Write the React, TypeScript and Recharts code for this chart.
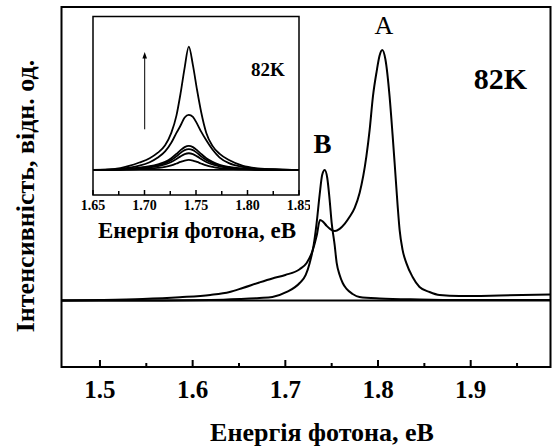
import React from 'react';
import { LineChart, Line, XAxis, YAxis, ReferenceLine, ReferenceArea } from 'recharts';

const FONT = "'Liberation Serif', 'Times New Roman', serif";

// ---- main panel: photoluminescence spectra at 82 K ----
const mainEnergyRange: [number, number] = [1.4585, 1.9861];
const mainIntensityRange: [number, number] = [-0.2655, 1.1717];
const mainMajorTicks = [1.5, 1.6, 1.7, 1.8, 1.9];
const mainMinorTicks = [1.55, 1.65, 1.75, 1.85, 1.95];

// spectrum with the dominant A peak and a B shoulder
const peakAEnergy = [
  1.4585, 1.5, 1.546, 1.586, 1.619, 1.64, 1.654, 1.672, 1.686, 1.7, 1.7155, 1.723,
  1.7295, 1.7338, 1.7374, 1.7405, 1.7446, 1.7489, 1.7536, 1.7586, 1.764, 1.7694,
  1.7748, 1.7802, 1.7874, 1.791, 1.7945, 1.7985, 1.8017, 1.8046, 1.808, 1.8125,
  1.8157, 1.8179, 1.8211, 1.8233, 1.8265, 1.8305, 1.8373, 1.8448, 1.8556, 1.8664,
  1.8879, 1.931, 1.9861,
];
const peakAIntensity = [
  0.0, 0.002, 0.006, 0.013, 0.022, 0.034, 0.05, 0.072, 0.088, 0.102, 0.125, 0.15,
  0.2, 0.258, 0.321, 0.315, 0.298, 0.284, 0.277, 0.286, 0.306, 0.334,
  0.37, 0.43, 0.574, 0.682, 0.814, 0.914, 0.978, 1.0, 0.962, 0.814,
  0.662, 0.55, 0.382, 0.282, 0.202, 0.15, 0.094, 0.054, 0.034, 0.022,
  0.018, 0.02, 0.024,
];

// spectrum with the single B peak
const peakBEnergy = [
  1.4585, 1.554, 1.619, 1.651, 1.672, 1.686, 1.7015, 1.7155, 1.722, 1.7263, 1.7306,
  1.7338, 1.737, 1.7398, 1.7425, 1.7452, 1.7478, 1.75, 1.7532, 1.7554, 1.7586,
  1.7619, 1.7661, 1.7726, 1.78, 1.8017, 1.8448, 1.888, 1.9861,
];
const peakBIntensity = [
  0.0, 0.0, 0.002, 0.006, 0.01, 0.014, 0.034, 0.07, 0.102, 0.15, 0.222,
  0.31, 0.422, 0.502, 0.521, 0.49, 0.402, 0.31, 0.222, 0.15, 0.102,
  0.07, 0.046, 0.026, 0.014, 0.008, 0.004, 0.002, 0.002,
];

// ---- inset: B-band spectra at increasing excitation ----
const insetEnergyRange: [number, number] = [1.65, 1.85];
const insetIntensityRange: [number, number] = [-0.2033, 1.2439];
const insetMajorTicks = [1.65, 1.7, 1.75, 1.8, 1.85];
const insetMinorTicks = [1.675, 1.725, 1.775, 1.825];

const insetEnergy = [
  1.65, 1.67, 1.685, 1.695, 1.705, 1.713, 1.72, 1.726, 1.731, 1.735, 1.739, 1.743,
  1.747, 1.751, 1.755, 1.76, 1.766, 1.773, 1.782, 1.795, 1.81, 1.83, 1.85,
];
const insetSpectrum1 = [
  0, 0.006, 0.032, 0.06, 0.095, 0.14, 0.2, 0.3, 0.44, 0.62, 0.83, 1.0,
  0.85, 0.65, 0.47, 0.3, 0.195, 0.13, 0.08, 0.035, 0.013, 0.004, 0,
];
const insetSpectrum2 = [
  0, 0.004, 0.018, 0.034, 0.062, 0.1, 0.15, 0.22, 0.3, 0.36, 0.425, 0.447,
  0.43, 0.375, 0.31, 0.24, 0.165, 0.1, 0.055, 0.025, 0.008, 0.003, 0,
];
const insetSpectrum3 = [
  0, 0.002, 0.01, 0.018, 0.03, 0.045, 0.065, 0.095, 0.13, 0.16, 0.185, 0.195,
  0.185, 0.16, 0.13, 0.095, 0.065, 0.042, 0.025, 0.012, 0.005, 0.002, 0,
];
const insetSpectrum4 = [
  0, 0.002, 0.008, 0.015, 0.025, 0.038, 0.055, 0.08, 0.11, 0.138, 0.16, 0.168,
  0.16, 0.138, 0.11, 0.08, 0.055, 0.035, 0.02, 0.01, 0.004, 0.001, 0,
];
const insetSpectrum5 = [
  0, 0.001, 0.006, 0.012, 0.02, 0.03, 0.044, 0.064, 0.088, 0.11, 0.128, 0.135,
  0.128, 0.11, 0.088, 0.064, 0.044, 0.028, 0.016, 0.008, 0.003, 0.001, 0,
];
const insetSpectrum6 = [
  0, 0, 0.003, 0.006, 0.011, 0.017, 0.025, 0.037, 0.052, 0.065, 0.076, 0.081,
  0.076, 0.065, 0.052, 0.037, 0.025, 0.015, 0.008, 0.004, 0.001, 0, 0,
];
const insetSpectra = [
  insetSpectrum1, insetSpectrum2, insetSpectrum3,
  insetSpectrum4, insetSpectrum5, insetSpectrum6,
];

const zip = (xs: number[], ys: number[]) => xs.map((e, i) => ({ e, v: ys[i] }));

const peakAData = zip(peakAEnergy, peakAIntensity);
const peakBData = zip(peakBEnergy, peakBIntensity);
const insetData = insetSpectra.map((s) => zip(insetEnergy, s));

// inward-pointing ticks with labels under the major ones
function makeTick(
  majors: number[],
  majorLen: number,
  minorLen: number,
  strokeWidth: number,
  fontSize: number,
  labelOffset: number,
  digits: number,
) {
  return (props: any) => {
    const { x, y, payload } = props;
    const isMajor = majors.some((m) => Math.abs(m - payload.value) < 1e-9);
    return (
      <g>
        <line
          x1={x}
          x2={x}
          y1={y}
          y2={y - (isMajor ? majorLen : minorLen)}
          stroke="#000"
          strokeWidth={strokeWidth}
        />
        {isMajor && (
          <text
            x={x}
            y={y + labelOffset}
            textAnchor="middle"
            dominantBaseline="central"
            fontFamily={FONT}
            fontWeight="bold"
            fontSize={fontSize}
            fill="#000"
          >
            {payload.value.toFixed(digits)}
          </text>
        )}
      </g>
    );
  };
}

const mainTicks = [...mainMajorTicks, ...mainMinorTicks].sort((a, b) => a - b);
const insetTicks = [...insetMajorTicks, ...insetMinorTicks].sort((a, b) => a - b);

const MainTick = makeTick(mainMajorTicks, 7, 4, 2, 25, 22, 1);
const InsetTick = makeTick(insetMajorTicks, 5, 4, 1.5, 14, 10.5, 2);

export default function App() {
  return (
    <div style={{ position: 'absolute', left: 0, top: 0, width: 558, height: 446, background: '#fff' }}>
      <div style={{ position: 'absolute', left: 0, top: 0 }}>
        <LineChart width={558} height={446} margin={{ top: 7, right: 7.5, bottom: 39, left: 61.5 }}>
          <XAxis
            type="number"
            dataKey="e"
            domain={mainEnergyRange}
            allowDataOverflow
            ticks={mainTicks}
            interval={0}
            height={40}
            axisLine={false}
            tickLine={false}
            tickSize={0}
            tickMargin={0}
            tick={MainTick}
          />
          <YAxis type="number" domain={mainIntensityRange} allowDataOverflow hide width={0} />
          <ReferenceArea
            x1={mainEnergyRange[0]}
            x2={mainEnergyRange[1]}
            y1={mainIntensityRange[0]}
            y2={mainIntensityRange[1]}
            fill="none"
            stroke="#000"
            strokeWidth={2}
          />
          <ReferenceLine y={0} stroke="#000" strokeWidth={2} />
          <Line
            data={peakBData}
            dataKey="v"
            type="monotone"
            stroke="#000"
            strokeWidth={2}
            dot={false}
            isAnimationActive={false}
          />
          <Line
            data={peakAData}
            dataKey="v"
            type="monotone"
            stroke="#000"
            strokeWidth={2}
            dot={false}
            isAnimationActive={false}
          />
        </LineChart>
      </div>

      <div style={{ position: 'absolute', left: 0, top: 0 }}>
        <LineChart width={310} height={250} margin={{ top: 16.5, right: 11, bottom: 25, left: 93 }}>
          <XAxis
            type="number"
            dataKey="e"
            domain={insetEnergyRange}
            allowDataOverflow
            ticks={insetTicks}
            interval={0}
            height={30}
            axisLine={false}
            tickLine={false}
            tickSize={0}
            tickMargin={0}
            tick={InsetTick}
          />
          <YAxis type="number" domain={insetIntensityRange} allowDataOverflow hide width={0} />
          <ReferenceArea
            x1={insetEnergyRange[0]}
            x2={insetEnergyRange[1]}
            y1={insetIntensityRange[0]}
            y2={insetIntensityRange[1]}
            fill="none"
            stroke="#000"
            strokeWidth={1.5}
          />
          <ReferenceLine y={0} stroke="#000" strokeWidth={1.8} />
          {insetData.map((d, i) => (
            <Line
              key={i}
              data={d}
              dataKey="v"
              type="monotone"
              stroke="#000"
              strokeWidth={1.8}
              dot={false}
              isAnimationActive={false}
            />
          ))}
        </LineChart>
      </div>

      <svg
        width={558}
        height={446}
        style={{ position: 'absolute', left: 0, top: 0, pointerEvents: 'none' }}
        fontFamily={FONT}
        fontWeight="bold"
      >
        <text
          x={25}
          y={196}
          transform="rotate(-90 25 196)"
          textAnchor="middle"
          dominantBaseline="central"
          fontSize={26}
        >
          Інтенсивність, відн. од.
        </text>
        <text x={322} y={432} textAnchor="middle" dominantBaseline="central" fontSize={26}>
          Енергія фотона, еВ
        </text>
        <text x={500.5} y={78.5} textAnchor="middle" dominantBaseline="central" fontSize={30}>
          82K
        </text>
        <text x={384} y={25.5} textAnchor="middle" dominantBaseline="central" fontSize={26} fontWeight="normal">
          A
        </text>
        <text x={322.5} y={143.5} textAnchor="middle" dominantBaseline="central" fontSize={27}>
          B
        </text>
        <text x={268} y={69.5} textAnchor="middle" dominantBaseline="central" fontSize={19}>
          82K
        </text>
        <text x={197} y={230} textAnchor="middle" dominantBaseline="central" fontSize={23}>
          Енергія фотона, еВ
        </text>
        <line x1={144.7} y1={129.3} x2={144.7} y2={57} stroke="#000" strokeWidth={1} />
        <polygon points="144.7,52 142.4,58.5 147,58.5" fill="#000" />
      </svg>
    </div>
  );
}
